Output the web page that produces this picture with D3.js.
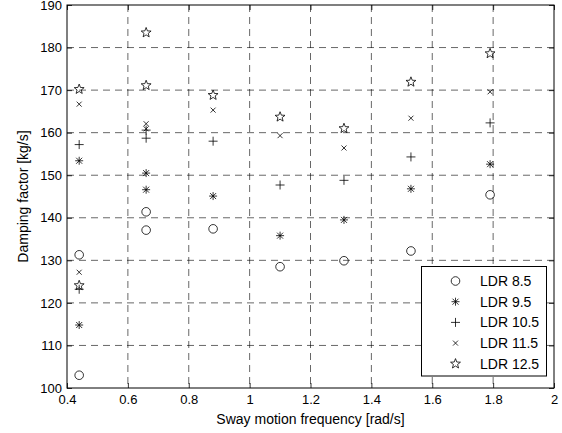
<!DOCTYPE html>
<html>
<head>
<meta charset="utf-8">
<script src="https://cdn.jsdelivr.net/npm/d3@7"></script>
<style>
  body { margin: 0; background: #fff; }
  text { font-family: 'Liberation Sans', Arial, sans-serif; fill: #000; }
</style>
</head>
<body>
<script>
'use strict';

// sway frequencies (two runs at the lowest two frequencies)
const freq   = [0.44, 0.44, 0.66, 0.66, 0.88, 1.1, 1.31, 1.53, 1.79];
const ldr85  = [131.3, 103.0, 141.4, 137.1, 137.4, 128.5, 129.9, 132.2, 145.4];
const ldr95  = [153.4, 114.8, 150.5, 146.6, 145.1, 135.8, 139.5, 146.8, 152.6];
const ldr105 = [157.2, 123.2, 160.6, 158.7, 158.0, 147.7, 148.8, 154.3, 162.3];
const ldr115 = [166.7, 127.2, 162.1, 160.9, 165.3, 159.3, 156.4, 163.4, 169.6];
const ldr125 = [170.2, 124.1, 183.5, 171.1, 168.8, 163.7, 161.0, 171.9, 178.6];

const seriesNames = ['LDR 8.5', 'LDR 9.5', 'LDR 10.5', 'LDR 11.5', 'LDR 12.5'];
const seriesVals = [ldr85, ldr95, ldr105, ldr115, ldr125];
const markerKinds = ['circle', 'asterisk', 'plus', 'cross', 'star'];

const xTicks = [0.4, 0.6, 0.8, 1, 1.2, 1.4, 1.6, 1.8, 2];
const yTicks = [100, 110, 120, 130, 140, 150, 160, 170, 180, 190];

(function() {

const margin = {top: 5, right: 8, bottom: 45, left: 67},
    width = 562 - margin.left - margin.right,
    height = 433 - margin.top - margin.bottom;

let x = d3.scaleLinear().domain([0.4, 2]).range([0, width]);
let y = d3.scaleLinear().domain([100, 190]).range([height, 0]);

let svg = d3.select('body').append('svg')
    .attr('width', 562)
    .attr('height', 433)
  .append('g')
    .attr('transform', 'translate(' + margin.left + ',' + margin.top + ')');

// dashed grid
svg.selectAll('.vgrid')
    .data(xTicks.slice(1, -1)).enter()
  .append('line')
    .attr('x1', d => x(d)).attr('x2', d => x(d))
    .attr('y1', 0).attr('y2', height)
    .attr('stroke', '#000').attr('stroke-width', 0.6)
    .attr('stroke-dasharray', '7,5');

svg.selectAll('.hgrid')
    .data(yTicks.slice(1, -1)).enter()
  .append('line')
    .attr('y1', d => y(d)).attr('y2', d => y(d))
    .attr('x1', 0).attr('x2', width)
    .attr('stroke', '#000').attr('stroke-width', 0.6)
    .attr('stroke-dasharray', '7,5');

// axes, ticks pointing inward
const fontSize = 13;
let xAxis = svg.append('g')
    .attr('transform', 'translate(0,' + height + ')')
    .call(d3.axisBottom(x).tickValues(xTicks).tickSizeInner(-5).tickSizeOuter(0).tickPadding(7)
        .tickFormat(d3.format('')));
let xTop = svg.append('g')
    .call(d3.axisTop(x).tickValues(xTicks).tickSizeInner(-5).tickSizeOuter(0).tickFormat(''));
let yAxis = svg.append('g')
    .call(d3.axisLeft(y).tickValues(yTicks).tickSizeInner(-5).tickSizeOuter(0).tickPadding(5));
let yRight = svg.append('g')
    .attr('transform', 'translate(' + width + ',0)')
    .call(d3.axisRight(y).tickValues(yTicks).tickSizeInner(-5).tickSizeOuter(0).tickFormat(''));

[xAxis, xTop, yAxis, yRight].forEach(function (g) {
  g.select('.domain').remove();
  g.selectAll('line').attr('stroke', '#000').attr('stroke-width', 0.8);
  g.selectAll('text')
      .attr('font-family', "'Liberation Sans', Arial, sans-serif")
      .attr('font-size', fontSize)
      .attr('fill', '#000');
});

svg.append('rect')
    .attr('width', width).attr('height', height)
    .attr('fill', 'none').attr('stroke', '#000').attr('stroke-width', 1);

// axis labels
svg.append('text')
    .attr('x', width / 2).attr('y', height + 36)
    .attr('text-anchor', 'middle')
    .attr('font-size', 14)
    .text('Sway motion frequency [rad/s]');

svg.append('text')
    .attr('transform', 'translate(' + (-39) + ',' + (height / 2) + ') rotate(-90)')
    .attr('text-anchor', 'middle')
    .attr('font-size', 14)
    .text('Damping factor [kg/s]');

// marker shapes, centred on 0,0
function markerPath(kind) {
  let p = d3.path();
  if (kind === 'circle') {
    p.moveTo(4.3, 0); p.arc(0, 0, 4.3, 0, 2 * Math.PI);
  } else if (kind === 'plus') {
    p.moveTo(-4.5, 0); p.lineTo(4.5, 0);
    p.moveTo(0, -4.5); p.lineTo(0, 4.5);
  } else if (kind === 'cross') {
    p.moveTo(-2.5, -2.5); p.lineTo(2.5, 2.5);
    p.moveTo(-2.5, 2.5); p.lineTo(2.5, -2.5);
  } else if (kind === 'asterisk') {
    p.moveTo(-4, 0); p.lineTo(4, 0);
    p.moveTo(0, -4); p.lineTo(0, 4);
    p.moveTo(-3, -3); p.lineTo(3, 3);
    p.moveTo(-3, 3); p.lineTo(3, -3);
  } else if (kind === 'star') {
    for (let i = 0; i < 10; i++) {
      let r = i % 2 === 0 ? 5.2 : 2.2;
      let a = -Math.PI / 2 + i * Math.PI / 5;
      if (i === 0) p.moveTo(r * Math.cos(a), r * Math.sin(a));
      else p.lineTo(r * Math.cos(a), r * Math.sin(a));
    }
    p.closePath();
  }
  return p.toString();
}

seriesVals.forEach(function (vals, s) {
  svg.append('g').selectAll('path')
      .data(vals).enter()
    .append('path')
      .attr('d', markerPath(markerKinds[s]))
      .attr('transform', (d, i) => 'translate(' + x(freq[i]) + ',' + y(d) + ')')
      .attr('fill', 'none')
      .attr('stroke', '#000')
      .attr('stroke-width', 0.8);
});

// legend
let legend = svg.append('g')
    .attr('transform', 'translate(' + (421.5 - margin.left) + ',' + (266.5 - margin.top) + ')');
legend.append('rect')
    .attr('width', 125).attr('height', 109.5)
    .attr('fill', '#fff').attr('stroke', '#000').attr('stroke-width', 1);

seriesNames.forEach(function (name, s) {
  let row = legend.append('g')
      .attr('transform', 'translate(0,' + (14.5 + s * 20.7) + ')');
  row.append('path')
      .attr('d', markerPath(markerKinds[s]))
      .attr('transform', 'translate(34,0)')
      .attr('fill', 'none').attr('stroke', '#000').attr('stroke-width', 0.8);
  row.append('text')
      .attr('x', 58.5).attr('dy', '0.35em')
      .attr('font-size', 14)
      .text(name);
});

})();
</script>
</body>
</html>
